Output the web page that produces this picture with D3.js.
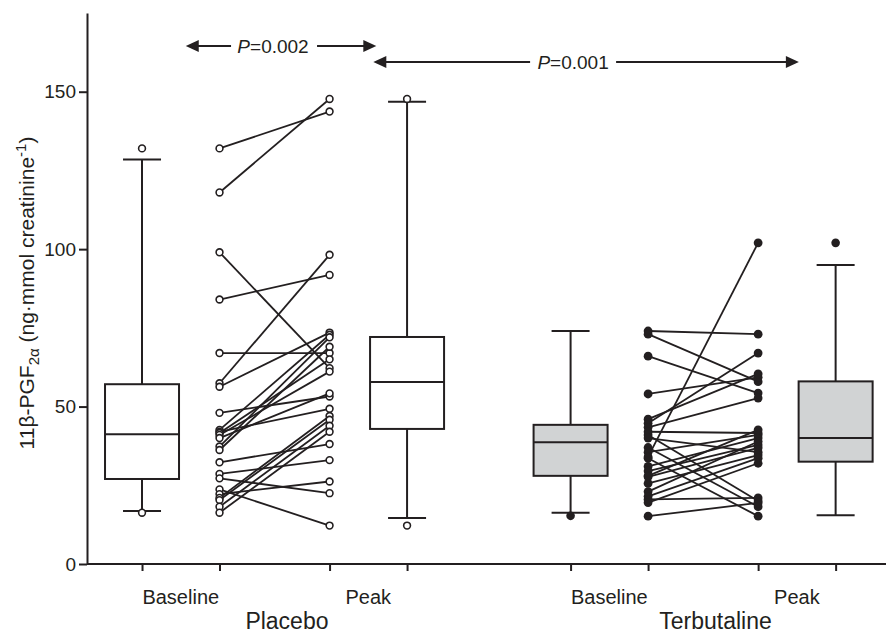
<!DOCTYPE html>
<html><head><meta charset="utf-8">
<script src="https://cdn.jsdelivr.net/npm/d3@7"></script>
<style>body{margin:0;background:#fff}svg{display:block;font-family:"Liberation Sans",Arial,sans-serif}</style>
</head><body><svg id="c" width="886" height="634"></svg>
<script>
const groups = ["Placebo", "Terbutaline"];
const timeLabels = ["Baseline", "Peak"];
const yTicks = [0, 50, 100, 150];
// paired subject data (same order in baseline and peak)
const placeboBaseline = [132, 118, 99, 84, 67, 57.4, 56.3, 48, 42.6, 42, 41.6, 41, 40, 37.3, 36.2, 32.3, 28.6, 27.2, 23.7, 22.2, 21, 20.3, 18.2, 16.3];
const placeboPeak     = [143.7, 147.7, 62.2, 91.8, 67, 98.2, 73.5, 53.2, 72.8, 49.3, 65, 61.1, 54.2, 72, 69, 38.1, 33, 22.5, 12.2, 26.2, 47, 45.8, 43.9, 42];
const terbBaseline = [74, 73, 66, 54, 46, 44.7, 43.4, 42, 41, 40, 37, 35.5, 34, 33.6, 31, 29.5, 28, 27.7, 25.6, 23, 21.5, 20.5, 19.5, 15.2];
const terbPeak     = [73, 57.9, 54.3, 59.3, 60.4, 67, 52.7, 41.6, 20, 35.5, 18.2, 41, 102, 15.2, 40, 37.8, 42.6, 36.9, 34.6, 38.9, 33.6, 21, 32, 19.4];
// box plot summaries: [placebo baseline, placebo peak, terbutaline baseline, terbutaline peak]
const boxQ1 = [27, 42.9, 28, 32.5];
const boxMedian = [41.2, 57.8, 38.7, 40];
const boxQ3 = [57.1, 72.1, 44.2, 58];
const boxWhiskerLow = [16.8, 14.6, 16.3, 15.5];
const boxWhiskerHigh = [128.5, 146.8, 74, 95];
const boxOutliers = [[132, 16.3], [147.7, 12.2], [15.3], [102]];
const pValues = ["0.002", "0.001"];

const svg = d3.select("#c");
const ink = "#231f20";
const y = d3.scaleLinear().domain([0, 175]).range([564, 13]);
const x = d3.scaleLinear().domain([-0.71, 9.6]).range([87, 886]);
const slot = {boxBase: 0, pairBase: 1, pairPeak: 2.42, boxPeak: 3.42};
const groupOffset = [0, 5.53];

// axes
const tickVals = [];
groupOffset.forEach(o => Object.values(slot).forEach(s => tickVals.push(o + s)));
const xAxis = svg.append("g").attr("transform", "translate(0,564)")
  .call(d3.axisBottom(x).tickValues(tickVals).tickFormat("").tickSize(7).tickSizeOuter(0));
const yAxis = svg.append("g").attr("transform", "translate(87,0)")
  .call(d3.axisLeft(y).tickValues(yTicks).tickSize(8).tickPadding(3).tickSizeOuter(0));
[xAxis, yAxis].forEach(a => {
  a.selectAll("path,line").attr("stroke", ink).attr("stroke-width", 2);
  a.selectAll("text").attr("font-size", 19).attr("fill", ink).attr("font-family", "Liberation Sans, Arial, sans-serif");
});
xAxis.select(".domain").attr("d", "M87,0H886");

// x labels
const groupLabelPos = [1.87, 1.87];
groupOffset.forEach((o, gi) => {
  svg.append("text").attr("x", x(o + (slot.boxBase + slot.pairBase) / 2)).attr("y", 604)
    .attr("text-anchor", "middle").attr("font-size", 20).attr("fill", ink).text(timeLabels[0]);
  svg.append("text").attr("x", x(o + (slot.pairPeak + slot.boxPeak) / 2)).attr("y", 604)
    .attr("text-anchor", "middle").attr("font-size", 20).attr("fill", ink).text(timeLabels[1]);
  svg.append("text").attr("x", x(o + groupLabelPos[gi])).attr("y", 629)
    .attr("text-anchor", "middle").attr("font-size", 23).attr("fill", ink).text(groups[gi]);
});

// y title
const yt = svg.append("text").attr("transform", "translate(34,293) rotate(-90)")
  .attr("text-anchor", "middle").attr("font-size", 21).attr("fill", ink);
yt.append("tspan").text("11β-PGF");
yt.append("tspan").attr("font-size", 15).attr("dy", 5).text("2α");
yt.append("tspan").attr("dy", -5).text(" (ng·mmol creatinine");
yt.append("tspan").attr("font-size", 15).attr("dy", -8).text("-1");
yt.append("tspan").attr("dy", 8).text(")");

// boxes
const boxW = 74, capW = 38;
const boxPos = [slot.boxBase, slot.boxPeak, groupOffset[1] + slot.boxBase, groupOffset[1] + slot.boxPeak];
boxPos.forEach((p, i) => {
  const cx = x(p), g = svg.append("g");
  const filled = i >= 2;
  g.append("line").attr("x1", cx).attr("x2", cx).attr("y1", y(boxWhiskerHigh[i])).attr("y2", y(boxQ3[i]));
  g.append("line").attr("x1", cx).attr("x2", cx).attr("y1", y(boxQ1[i])).attr("y2", y(boxWhiskerLow[i]));
  [boxWhiskerHigh[i], boxWhiskerLow[i]].forEach(v =>
    g.append("line").attr("x1", cx - capW / 2).attr("x2", cx + capW / 2).attr("y1", y(v)).attr("y2", y(v)));
  g.append("rect").attr("x", cx - boxW / 2).attr("width", boxW).attr("y", y(boxQ3[i]))
    .attr("height", y(boxQ1[i]) - y(boxQ3[i])).attr("fill", filled ? "#d1d3d4" : "#fff");
  g.append("line").attr("x1", cx - boxW / 2).attr("x2", cx + boxW / 2).attr("y1", y(boxMedian[i])).attr("y2", y(boxMedian[i]));
  g.selectAll("line,rect").attr("stroke", ink).attr("stroke-width", 2);
  boxOutliers[i].forEach(v =>
    g.append("circle").attr("cx", cx).attr("cy", y(v)).attr("r", filled ? 4.3 : 3.4)
      .attr("fill", filled ? ink : "#fff").attr("stroke", ink).attr("stroke-width", filled ? 0 : 1.6));
});

// paired lines
[[placeboBaseline, placeboPeak, false], [terbBaseline, terbPeak, true]].forEach(([b, pk, filled], gi) => {
  const o = groupOffset[gi], g = svg.append("g");
  b.forEach((v, i) => g.append("line").attr("x1", x(o + slot.pairBase)).attr("y1", y(v))
    .attr("x2", x(o + slot.pairPeak)).attr("y2", y(pk[i])).attr("stroke", ink).attr("stroke-width", 1.8));
  [[b, slot.pairBase], [pk, slot.pairPeak]].forEach(([arr, s]) => arr.forEach(v =>
    g.append("circle").attr("cx", x(o + s)).attr("cy", y(v)).attr("r", filled ? 4.4 : 3.4)
      .attr("fill", filled ? ink : "#fff").attr("stroke", ink).attr("stroke-width", filled ? 0 : 1.6)));
});

// P-value arrows
function arrow(x1, x2, yy, label, tx, gapL, gapR) {
  const g = svg.append("g");
  const t = g.append("text").attr("x", tx).attr("y", yy + 7).attr("text-anchor", "middle")
    .attr("font-size", 19).attr("fill", ink);
  t.append("tspan").attr("font-style", "italic").text("P");
  t.append("tspan").text("=" + label);
  g.append("line").attr("x1", x1 + 10).attr("x2", tx - gapL).attr("y1", yy).attr("y2", yy);
  g.append("line").attr("x1", tx + gapR).attr("x2", x2 - 10).attr("y1", yy).attr("y2", yy);
  g.selectAll("line").attr("stroke", ink).attr("stroke-width", 2.2);
  g.append("path").attr("d", `M${x1},${yy}l13,-6v12z`).attr("fill", ink);
  g.append("path").attr("d", `M${x2},${yy}l-13,-6v12z`).attr("fill", ink);
}
const a1s = x((slot.boxBase + slot.pairBase) / 2) + 5;
const a1e = x((slot.pairPeak + slot.boxPeak) / 2) + 8;
const a2e = x(groupOffset[1] + (slot.pairPeak + slot.boxPeak) / 2) + 2;
arrow(a1s, a1e, 46, pValues[0], (a1s + a1e) / 2 - 8, 42, 44);
arrow(a1e - 3, a2e, 62, pValues[1], (a1e - 3 + a2e) / 2 - 13, 43, 43);
</script></body></html>
